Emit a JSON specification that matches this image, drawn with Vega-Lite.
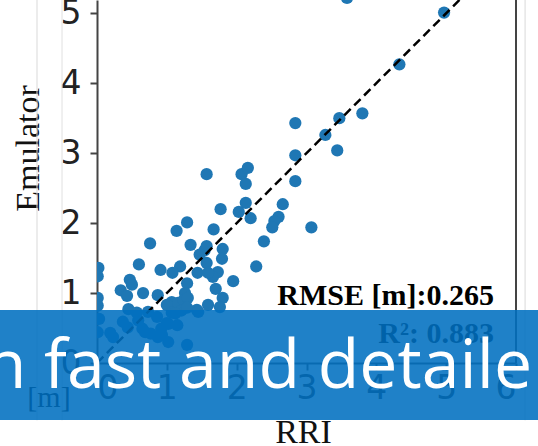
{
  "$schema": "https://vega.github.io/schema/vega-lite/v6.json",
  "width": 419,
  "height": 363,
  "autosize": {"type": "none"},
  "padding": {"left": 97, "top": 0, "right": 22, "bottom": 83},
  "background": "white",
  "data": {"values": [{}]},
  "config": {
    "view": {"stroke": null},
    "axis": {
      "labelFont": "DejaVu Sans",
      "labelFontSize": 33,
      "labelColor": "#222222",
      "domainColor": "#444444",
      "domainWidth": 2,
      "tickColor": "#444444",
      "tickWidth": 2,
      "tickSize": 7,
      "grid": false,
      "titleFont": "Liberation Serif",
      "titleFontWeight": "normal",
      "titleFontSize": 34,
      "titleColor": "#111111"
    }
  },
  "datasets": {
    "pts": [
      {"x": 3.58, "y": 5.22}, {"x": 4.97, "y": 5.01}, {"x": 4.33, "y": 4.27}, {"x": 3.8, "y": 3.57},
      {"x": 3.47, "y": 3.5}, {"x": 3.27, "y": 3.26}, {"x": 3.44, "y": 3.04}, {"x": 2.84, "y": 3.43},
      {"x": 2.84, "y": 2.97}, {"x": 2.84, "y": 2.6}, {"x": 3.07, "y": 1.94}, {"x": 2.66, "y": 2.27},
      {"x": 2.6, "y": 2.09}, {"x": 2.54, "y": 2.03}, {"x": 2.51, "y": 1.94}, {"x": 2.39, "y": 1.74},
      {"x": 2.28, "y": 1.38}, {"x": 2.07, "y": 2.7}, {"x": 2.16, "y": 2.79}, {"x": 2.13, "y": 2.56},
      {"x": 2.13, "y": 2.29}, {"x": 2.03, "y": 2.16}, {"x": 2.2, "y": 2.07}, {"x": 1.57, "y": 2.7},
      {"x": 1.77, "y": 2.2}, {"x": 1.67, "y": 1.91}, {"x": 1.29, "y": 2.01}, {"x": 1.14, "y": 1.89},
      {"x": 0.76, "y": 1.71}, {"x": 1.34, "y": 1.69}, {"x": 1.8, "y": 1.63}, {"x": 1.54, "y": 1.61},
      {"x": 1.57, "y": 1.67}, {"x": 1.47, "y": 1.55}, {"x": 1.57, "y": 1.43}, {"x": 1.79, "y": 1.49},
      {"x": 1.73, "y": 1.3}, {"x": 1.66, "y": 1.23}, {"x": 1.95, "y": 1.17}, {"x": 1.7, "y": 1.06},
      {"x": 1.8, "y": 0.93}, {"x": 1.59, "y": 0.83}, {"x": 1.76, "y": 0.8}, {"x": 1.43, "y": 0.76},
      {"x": 1.44, "y": 1.29}, {"x": 1.59, "y": 1.29},
      {"x": 0.02, "y": 1.36}, {"x": 0.01, "y": 1.24}, {"x": 0.6, "y": 1.41}, {"x": 0.91, "y": 1.33},
      {"x": 1.19, "y": 1.38}, {"x": 1.08, "y": 1.29}, {"x": 0.47, "y": 1.19}, {"x": 0.5, "y": 1.12},
      {"x": 0.34, "y": 1.04}, {"x": 0.43, "y": 0.96}, {"x": 0.66, "y": 1.0}, {"x": 0.87, "y": 0.97},
      {"x": 1.29, "y": 1.14}, {"x": 1.26, "y": 1.0}, {"x": 0.01, "y": 0.93}, {"x": 0.01, "y": 0.82},
      {"x": 1.07, "y": 0.87}, {"x": 1.16, "y": 0.86}, {"x": 1.24, "y": 0.9}, {"x": 1.0, "y": 0.83},
      {"x": 1.3, "y": 0.93}, {"x": 0.45, "y": 0.77}, {"x": 0.57, "y": 0.72}, {"x": 1.21, "y": 0.75},
      {"x": 1.07, "y": 0.72},
      {"x": 0.03, "y": 0.63}, {"x": 0.01, "y": 0.44}, {"x": 0.19, "y": 0.43}, {"x": 0.23, "y": 0.37},
      {"x": 0.37, "y": 0.59}, {"x": 0.44, "y": 0.51}, {"x": 0.59, "y": 0.61}, {"x": 0.69, "y": 0.44},
      {"x": 0.73, "y": 0.73}, {"x": 0.86, "y": 0.66}, {"x": 1.0, "y": 0.57}, {"x": 0.93, "y": 0.4},
      {"x": 1.02, "y": 0.3}, {"x": 1.15, "y": 0.54}, {"x": 1.12, "y": 0.71}, {"x": 1.29, "y": 0.26},
      {"x": 1.29, "y": 0.79}, {"x": 0.77, "y": 0.42}, {"x": 0.87, "y": 0.37}, {"x": 0.65, "y": 0.49},
      {"x": 0.92, "y": 0.49}, {"x": 1.45, "y": 0.73}, {"x": 1.02, "y": 0.56}
    ],
    "diag": [{"x": 0, "y": 0}, {"x": 6, "y": 6}]
  },
  "layer": [
    {
      "data": {"name": "pts"},
      "mark": {"type": "circle", "size": 150, "color": "#1f77b4", "opacity": 1, "clip": true},
      "encoding": {
        "x": {
          "field": "x", "type": "quantitative", "title": "RRI",
          "scale": {"domain": [0, 6], "nice": false, "zero": false},
          "axis": {"values": [0, 1, 2, 3, 4, 5, 6], "format": "d", "title": "RRI", "labelPadding": 2, "titleX": 206, "titleY": 79, "titleBaseline": "alphabetic", "titleAnchor": "middle"}
        },
        "y": {
          "field": "y", "type": "quantitative", "title": "Emulator",
          "scale": {"domain": [0, 5.19], "nice": false, "zero": false},
          "axis": {"values": [0, 1, 2, 3, 4, 5], "format": "d", "title": "Emulator", "labelPadding": 9, "titleX": -69, "titleY": 148, "titleAngle": -90, "titleAlign": "center", "titleBaseline": "middle"}
        }
      }
    },
    {
      "mark": {"type": "rule", "clip": false, "color": "#d9d9d9", "strokeWidth": 1},
      "encoding": {
        "x": {"datum": -0.859, "type": "quantitative"},
        "y": {"datum": 5.19, "type": "quantitative"},
        "y2": {"datum": -0.82}
      }
    },
    {
      "mark": {"type": "rule", "clip": false, "color": "#e0e0e0", "strokeWidth": 1},
      "encoding": {
        "x": {"datum": -0.501, "type": "quantitative"},
        "y": {"datum": 5.19, "type": "quantitative"},
        "y2": {"datum": -0.82}
      }
    },
    {
      "mark": {"type": "rule", "clip": false, "color": "#d9d9d9", "strokeWidth": 1},
      "encoding": {
        "x": {"datum": 6.13, "type": "quantitative"},
        "y": {"datum": 5.19, "type": "quantitative"},
        "y2": {"datum": -0.82}
      }
    },
    {
      "mark": {"type": "rule", "clip": false, "color": "#444444", "strokeWidth": 2},
      "encoding": {
        "x": {"datum": 6, "type": "quantitative"},
        "y": {"datum": 5.19, "type": "quantitative"},
        "y2": {"datum": 0}
      }
    },
    {
      "data": {"name": "diag"},
      "mark": {"type": "line", "color": "black", "strokeWidth": 2.5, "strokeDash": [9, 5], "clip": true},
      "encoding": {
        "x": {"field": "x", "type": "quantitative", "title": "RRI"},
        "y": {"field": "y", "type": "quantitative", "title": "Emulator"}
      }
    },
    {
      "mark": {"type": "text", "text": "RMSE [m]:0.265", "align": "right", "baseline": "alphabetic", "font": "Liberation Serif", "fontWeight": "bold", "fontSize": 30, "color": "black", "clip": false},
      "encoding": {
        "x": {"datum": 5.685, "type": "quantitative"},
        "y": {"datum": 0.83, "type": "quantitative"}
      }
    },
    {
      "mark": {"type": "text", "text": "R²: 0.883", "align": "right", "baseline": "alphabetic", "font": "Liberation Serif", "fontWeight": "bold", "fontSize": 30, "color": "black", "clip": false},
      "encoding": {
        "x": {"datum": 5.685, "type": "quantitative"},
        "y": {"datum": 0.286, "type": "quantitative"}
      }
    },
    {
      "mark": {"type": "text", "text": "[m]", "align": "center", "baseline": "alphabetic", "font": "Liberation Serif", "fontSize": 30, "color": "black", "clip": false},
      "encoding": {
        "x": {"datum": -0.687, "type": "quantitative"},
        "y": {"datum": -0.629, "type": "quantitative"}
      }
    },
    {
      "mark": {"type": "rect", "color": "#0070c0", "opacity": 0.88, "clip": false},
      "encoding": {
        "x": {"datum": -1.6, "type": "quantitative"},
        "x2": {"datum": 6.6},
        "y": {"datum": 0.757, "type": "quantitative"},
        "y2": {"datum": -0.814}
      }
    },
    {
      "mark": {"type": "text", "text": "n fast and detaile", "align": "right", "baseline": "alphabetic", "font": "Open Sans", "fontSize": 68, "color": "white", "clip": false},
      "encoding": {
        "x": {"datum": 6.23, "type": "quantitative"},
        "y": {"datum": -0.357, "type": "quantitative"}
      }
    }
  ]
}
